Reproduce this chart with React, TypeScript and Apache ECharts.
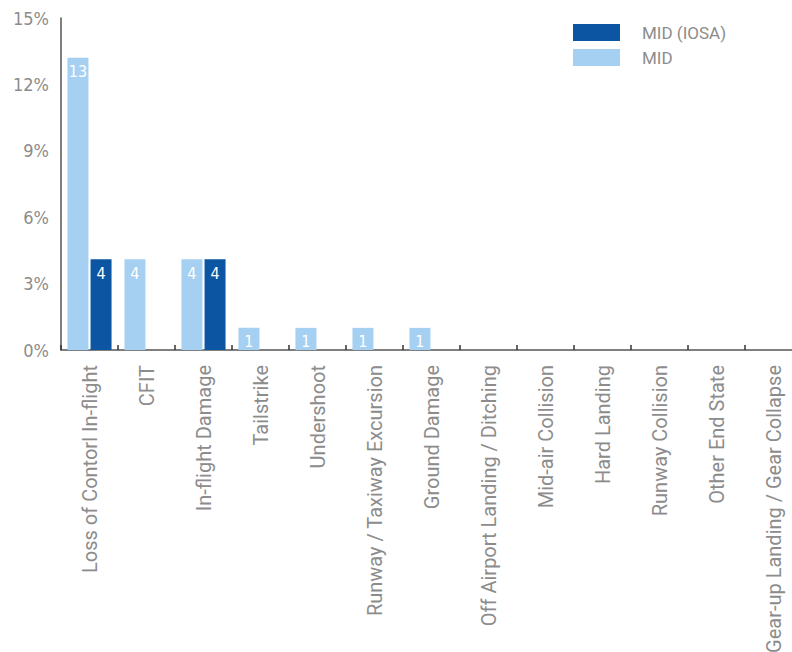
import React, { useEffect, useRef } from "react";
import * as echarts from "echarts";

const categories = [
  "Loss of Contorl In-flight",
  "CFIT",
  "In-flight Damage",
  "Tailstrike",
  "Undershoot",
  "Runway / Taxiway Excursion",
  "Ground Damage",
  "Off Airport Landing / Ditching",
  "Mid-air Collision",
  "Hard Landing",
  "Runway Collision",
  "Other End State",
  "Gear-up Landing / Gear Collapse",
];

// percentage heights
const midValues = [13.2, 4.1, 4.1, 1.0, 1.0, 1.0, 1.0, 0, 0, 0, 0, 0, 0];
const midIosaValues = [4.1, 0, 4.1, 0, 0, 0, 0, 0, 0, 0, 0, 0, 0];
// counts printed on the bars
const midCounts = [13, 4, 4, 1, 1, 1, 1, 0, 0, 0, 0, 0, 0];
const midIosaCounts = [4, 0, 4, 0, 0, 0, 0, 0, 0, 0, 0, 0, 0];

const yTicks = [0, 3, 6, 9, 12, 15];

const FONT = "'DejaVu Sans Condensed', 'Liberation Sans Narrow', Roboto, sans-serif";
const FONT2 = "Roboto, 'DejaVu Sans Condensed', sans-serif";
const GRAY = "#8c8c8c";
const DARK = "#0b55a3";
const LIGHT = "#a5d0f1";

export default function App() {
  const ref = useRef<HTMLDivElement>(null);
  useEffect(() => {
    if (!ref.current) return;
    const chart = echarts.init(ref.current, undefined, { renderer: "svg" });
    const barLabel = (counts: number[]) => ({
      show: true,
      position: "insideTop" as const,
      distance: 6,
      color: "#ffffff",
      fontFamily: FONT,
      fontSize: 16,
      formatter: (p: any) => (counts[p.dataIndex] ? String(counts[p.dataIndex]) : ""),
    });
    chart.setOption({
      animation: false,
      textStyle: { fontFamily: FONT2 },
      legend: {
        orient: "vertical",
        left: 568,
        top: 19,
        itemWidth: 47,
        itemHeight: 17,
        itemGap: 8,
        icon: "rect",
        data: ["MID (IOSA)", "MID"],
        textStyle: { color: GRAY, fontSize: 17, fontFamily: FONT2, padding: [0, 0, 0, 17] },
      },
      grid: {
        left: 61,
        right: -10,
        top: 18,
        bottom: 302,
        containLabel: false,
        outerBoundsMode: "none",
      },
      xAxis: {
        type: "category",
        data: categories,
        axisLine: { show: true, lineStyle: { color: "#555555", width: 1.5 } },
        axisTick: { show: true, inside: true, length: 5, lineStyle: { color: "#333333", width: 1.5 } },
        axisLabel: {
          rotate: 90,
          interval: 0,
          margin: 15,
          color: GRAY,
          fontSize: 20,
          fontFamily: FONT2,
        },
      },
      yAxis: {
        type: "value",
        min: yTicks[0],
        max: yTicks[yTicks.length - 1],
        interval: 3,
        splitLine: { show: false },
        axisTick: { show: false },
        axisLine: { show: true, lineStyle: { color: "#555555", width: 1.5 } },
        axisLabel: {
          formatter: "{value}%",
          color: GRAY,
          fontSize: 18,
          fontFamily: FONT,
          margin: 12,
        },
      },
      series: [
        {
          name: "MID",
          type: "bar",
          data: midValues,
          barWidth: 21,
          barGap: "10%",
          itemStyle: { color: LIGHT },
          label: barLabel(midCounts),
        },
        {
          name: "MID (IOSA)",
          type: "bar",
          data: midIosaValues,
          barWidth: 21,
          barGap: "10%",
          itemStyle: { color: DARK },
          label: barLabel(midIosaCounts),
        },
      ],
    });
    return () => chart.dispose();
  }, []);
  return (
    <div
      ref={ref}
      style={{ position: "fixed", left: 0, top: 0, width: 792, height: 652, background: "#ffffff" }}
    />
  );
}
